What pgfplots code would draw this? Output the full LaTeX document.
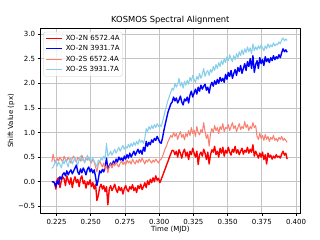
\documentclass[border=0pt]{standalone}
\usepackage{fontspec}
\setmainfont{DejaVu Sans}
\usepackage{pgfplots}
\usepackage{pgfplotstable}
\pgfplotsset{compat=1.18}
\definecolor{mpred}{HTML}{FF0000}
\definecolor{mpblue}{HTML}{0000FF}
\definecolor{mpsalmon}{HTML}{FA8072}
\definecolor{mpsky}{HTML}{87CEEB}
\definecolor{gridc}{HTML}{C4C4C4}
\newcommand{\lf}{\fontsize{10.1pt}{12pt}\selectfont}
\newcommand{\legf}{\fontsize{10.1pt}{12pt}\selectfont}
\pgfplotstableread{
x r b s c
0.2215 0.00 0.00 0.40 0.27
0.2225 0.00 0.00 0.56 0.30
0.2235 -0.02 -0.02 0.42 0.36
0.2245 -0.15 -0.10 0.38 0.44
0.2255 0.05 0.02 0.48 0.32
0.2265 0.08 -0.05 0.42 0.40
0.2275 -0.12 0.10 0.50 0.35
0.2285 0.02 0.05 0.45 0.28
0.2295 0.10 0.15 0.40 0.42
0.2305 0.06 0.18 0.52 0.36
0.2315 -0.08 0.12 0.46 0.46
0.2325 0.12 0.22 0.42 0.38
0.2335 0.03 0.14 0.50 0.30
0.2345 -0.05 0.20 0.44 0.44
0.2355 0.08 0.24 0.38 0.48
0.2365 -0.12 0.16 0.48 0.36
0.2375 0.02 0.22 0.52 0.42
0.2385 0.10 0.28 0.44 0.50
0.2395 -0.02 0.34 0.40 0.40
0.2405 0.05 0.20 0.50 0.34
0.2415 -0.10 0.15 0.46 0.46
0.2425 0.06 0.26 0.42 0.52
0.2435 0.12 0.18 0.54 0.42
0.2445 -0.04 0.28 0.46 0.48
0.2455 0.02 0.22 0.40 0.38
0.2465 -0.13 0.14 0.48 0.45
0.2475 0.00 0.25 0.44 0.54
0.2485 -0.06 0.30 0.50 0.44
0.2495 0.04 0.20 0.42 0.50
0.2505 -0.10 0.26 0.38 0.40
0.2515 -0.02 0.18 0.46 0.48
0.2525 -0.15 0.24 0.40 0.42
0.2535 -0.05 0.10 0.30 0.36
0.2545 -0.38 -0.08 0.20 0.30
0.2555 -0.28 0.05 0.35 0.44
0.2565 -0.12 0.22 0.42 0.40
0.2575 -0.05 0.18 0.36 0.48
0.2585 -0.15 0.25 0.30 0.44
0.2595 -0.08 0.20 0.38 0.52
0.2605 -0.20 0.30 0.25 0.46
0.2615 -0.10 0.48 0.34 0.78
0.2625 -0.47 0.25 0.18 0.52
0.2635 -0.15 0.32 0.30 0.56
0.2645 -0.08 0.38 0.36 0.62
0.2655 -0.18 0.30 0.28 0.54
0.2665 -0.12 0.42 0.38 0.60
0.2675 -0.05 0.36 0.32 0.66
0.2685 -0.16 0.46 0.40 0.58
0.2695 -0.22 0.40 0.34 0.64
0.2705 -0.10 0.50 0.30 0.70
0.2715 -0.18 0.44 0.38 0.62
0.2725 -0.12 0.48 0.42 0.68
0.2735 -0.25 0.42 0.35 0.74
0.2745 -0.14 0.52 0.40 0.66
0.2755 -0.08 0.46 0.34 0.72
0.2765 -0.16 0.55 0.44 0.68
0.2775 -0.20 0.48 0.38 0.76
0.2785 -0.10 0.58 0.42 0.70
0.2795 -0.15 0.50 0.36 0.78
0.2805 -0.06 0.56 0.46 0.72
0.2815 -0.18 0.62 0.40 0.80
0.2825 -0.12 0.54 0.36 0.74
0.2835 -0.22 0.60 0.44 0.82
0.2845 -0.08 0.66 0.38 0.76
0.2855 -0.14 0.58 0.46 0.86
0.2865 -0.05 0.64 0.40 0.80
0.2875 -0.16 0.56 0.48 0.84
0.2885 -0.10 0.70 0.42 0.78
0.2895 -0.02 0.62 0.36 0.88
0.2905 -0.12 0.82 0.44 1.08
0.2915 0.02 0.72 0.40 1.02
0.2925 -0.06 0.80 0.46 1.12
0.2935 0.05 0.75 0.42 1.06
0.2945 -0.02 0.85 0.38 1.14
0.2955 0.08 0.80 0.44 1.08
0.2965 0.00 0.88 0.40 1.16
0.2975 0.12 0.84 0.46 1.10
0.2985 0.03 0.92 0.42 1.18
0.2995 0.07 0.86 0.38 1.12
0.3005 -0.02 0.80 0.44 1.16
0.3015 0.05 0.78 0.46 1.12
0.3025 0.12 0.90 0.52 1.22
0.3035 0.20 1.05 0.60 1.34
0.3045 0.27 1.18 0.68 1.46
0.3055 0.35 1.30 0.74 1.56
0.3065 0.42 1.42 0.82 1.66
0.3075 0.50 1.50 0.88 1.74
0.3085 0.57 1.58 0.94 1.82
0.3095 0.64 1.62 0.90 1.90
0.3105 0.63 1.72 1.00 1.86
0.3115 0.55 1.64 0.92 2.00
0.3125 0.62 1.70 0.98 1.92
0.3135 0.50 1.60 0.86 1.98
0.3145 0.65 1.66 0.95 2.10
0.3155 0.58 1.74 1.02 1.94
0.3165 0.48 1.62 0.90 2.02
0.3175 0.60 1.56 0.96 1.90
0.3185 0.66 1.68 0.85 2.04
0.3195 0.52 1.64 0.98 1.96
0.3205 0.60 1.72 0.92 2.06
0.3215 0.45 1.60 1.04 1.98
0.3225 0.62 1.76 0.94 2.12
0.3235 0.55 1.84 1.10 2.04
0.3245 0.68 1.72 0.98 2.16
0.3255 0.58 1.80 1.05 2.08
0.3265 0.50 1.88 0.92 2.02
0.3275 0.62 1.78 1.12 2.14
0.3285 0.35 1.92 1.00 2.08
0.3295 0.55 1.84 0.95 2.20
0.3305 0.60 1.96 1.06 2.10
0.3315 0.52 1.88 1.00 2.18
0.3325 0.66 1.94 1.20 2.30
0.3335 0.58 1.98 1.02 2.14
0.3345 0.45 1.86 0.88 2.22
0.3355 0.60 1.92 0.96 2.26
0.3365 0.36 1.80 0.72 2.16
0.3375 0.55 1.95 0.98 2.28
0.3385 0.65 2.02 1.08 2.22
0.3395 0.60 1.94 1.00 2.34
0.3405 0.72 2.05 1.14 2.26
0.3415 0.55 1.98 1.04 2.38
0.3425 0.62 2.08 1.10 2.30
0.3435 0.50 2.00 0.98 2.42
0.3445 0.68 2.12 1.12 2.34
0.3455 0.58 2.04 1.06 2.46
0.3465 0.70 2.10 1.18 2.38
0.3475 0.52 2.02 1.02 2.50
0.3485 0.64 2.18 1.10 2.42
0.3495 0.58 2.08 1.08 2.54
0.3505 0.70 2.22 1.16 2.46
0.3515 0.60 2.14 1.04 2.58
0.3525 0.54 2.26 1.12 2.50
0.3535 0.66 2.10 1.20 2.44
0.3545 0.60 2.20 1.08 2.56
0.3555 0.72 2.28 1.14 2.48
0.3565 0.58 2.16 1.02 2.60
0.3575 0.65 2.32 1.10 2.52
0.3585 0.55 2.24 1.18 2.64
0.3595 0.62 2.36 1.06 2.56
0.3605 0.68 2.20 1.12 2.68
0.3615 0.56 2.30 1.08 2.58
0.3625 0.64 2.40 1.22 2.70
0.3635 0.60 2.26 1.10 2.62
0.3645 0.70 2.44 1.16 2.74
0.3655 0.58 2.34 1.04 2.64
0.3665 0.66 2.50 1.12 2.72
0.3675 0.60 2.30 1.08 2.60
0.3685 0.75 2.56 1.20 2.80
0.3695 0.52 2.22 1.10 2.66
0.3705 0.62 2.38 1.14 2.74
0.3715 0.55 2.46 0.92 2.68
0.3725 0.48 2.30 0.86 2.76
0.3735 0.58 2.52 0.98 2.70
0.3745 0.50 2.40 0.88 2.78
0.3755 0.60 2.48 0.94 2.72
0.3765 0.45 2.36 0.84 2.66
0.3775 0.55 2.54 0.96 2.76
0.3785 0.36 2.44 0.86 2.70
0.3795 0.58 2.50 0.92 2.80
0.3805 0.50 2.42 0.82 2.72
0.3815 0.54 2.52 0.90 2.78
0.3825 0.46 2.46 0.86 2.74
0.3835 0.52 2.56 0.94 2.82
0.3845 0.48 2.48 0.84 2.76
0.3855 0.55 2.54 0.88 2.80
0.3865 0.50 2.50 0.82 2.78
0.3875 0.52 2.58 0.90 2.84
0.3885 0.48 2.52 0.86 2.80
0.3895 0.56 2.62 0.92 2.88
0.3905 0.62 2.70 0.84 2.92
0.3915 0.54 2.64 0.88 2.86
0.3925 0.58 2.68 0.84 2.90
0.3935 0.46 2.63 0.80 2.87
}\data
\begin{document}
\begin{tikzpicture}
\path[use as bounding box] (0,0) rectangle (460.8pt,345.6pt);
\begin{axis}[
  at={(57.6pt,38.4pt)}, anchor=south west,
  scale only axis, width=375.4pt, height=266.4pt,
  xmin=0.2129, xmax=0.4034, ymin=-0.642, ymax=3.116,
  xtick={0.225,0.25,0.275,0.3,0.325,0.35,0.375,0.4},
  xticklabels={0.225,0.250,0.275,0.300,0.325,0.350,0.375,0.400},
  ytick={-0.5,0,0.5,1,1.5,2,2.5,3},
  yticklabels={−0.5,0.0,0.5,1.0,1.5,2.0,2.5,3.0},
  scaled x ticks=false,
  tick pos=left, tick align=outside,
  major tick length=3.5pt,
  every tick/.style={black, line width=0.8pt},
  axis line style={line width=0.8pt},
  ticklabel style={font=\lf},
  xticklabel style={yshift=-1pt},
  grid=major,
  major grid style={color=gridc, line width=1pt},
  title={KOSMOS Spectral Alignment},
  title style={font=\fontsize{12}{14}\selectfont, yshift=-4pt},
  xlabel={Time (MJD)},
  ylabel={Shift Value (px)},
  label style={font=\lf},
  xlabel style={yshift=3.5pt},
  ylabel shift=-2pt,
  legend style={at={(0.0133,0.981)}, anchor=north west,
    draw=black!20, rounded corners=2.5pt, fill=white, fill opacity=0.8, text opacity=1,
    font=\legf, inner xsep=3pt, inner ysep=3.5pt, row sep=4.2pt,
    nodes={inner sep=1pt},
    /tikz/every odd column/.append style={column sep=4pt}},
  legend cell align=left,
  legend image code/.code={\draw[#1] (0pt,0pt) -- (22pt,0pt);},
  line join=round,
]
\addlegendimage{mpred, line width=2pt}
\addlegendentry{XO-2N 6572.4A}
\addlegendimage{mpblue, line width=2pt}
\addlegendentry{XO-2N 3931.7A}
\addlegendimage{mpsalmon, line width=1.5pt}
\addlegendentry{XO-2S 6572.4A}
\addlegendimage{mpsky, line width=1.5pt}
\addlegendentry{XO-2S 3931.7A}
\addplot[mpred, line width=2pt, no markers, forget plot] table[x=x,y=r] {\data};
\addplot[mpblue, line width=2pt, no markers, forget plot] table[x=x,y=b] {\data};
\addplot[mpsalmon, line width=1.5pt, no markers, forget plot] table[x=x,y=s] {\data};
\addplot[mpsky, line width=1.5pt, no markers, forget plot] table[x=x,y=c] {\data};
\end{axis}
\end{tikzpicture}
\end{document}
